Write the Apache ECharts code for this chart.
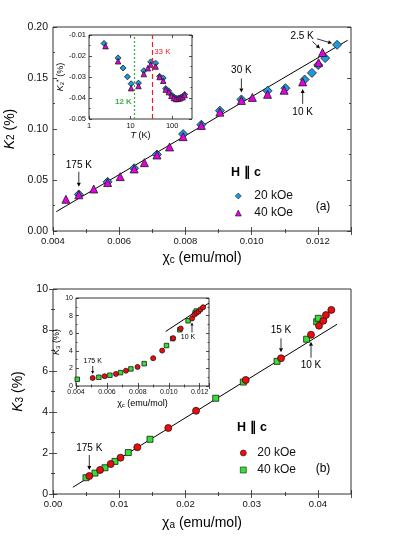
<!DOCTYPE html>
<html>
<head>
<meta charset="utf-8">
<script src="https://cdn.jsdelivr.net/npm/echarts@6/dist/echarts.min.js"></script>
<style>
  html, body { margin: 0; padding: 0; background: #fff; }
  #chart { width: 415px; height: 537px; }
</style>
</head>
<body>
<div id="chart"></div>
<script>
// (a) K2 vs chi_c, main panel  [chi_c (emu/mol), K2 (%)]
const k2Main20 = [
  [0.00478, 0.0358], [0.00565, 0.0482], [0.00645, 0.0615], [0.00714, 0.0750],
  [0.00793, 0.0950], [0.00848, 0.1042], [0.00904, 0.1180], [0.00969, 0.1290],
  [0.01048, 0.1375], [0.01102, 0.1400], [0.01160, 0.1485], [0.01182, 0.1550],
  [0.01201, 0.1627], [0.01222, 0.1695], [0.01258, 0.1825]
];
const k2Main40 = [
  [0.00439, 0.0311], [0.00478, 0.0355], [0.00523, 0.0412], [0.00565, 0.0475],
  [0.00603, 0.0533], [0.00645, 0.0608], [0.00676, 0.0670], [0.00714, 0.0745],
  [0.00752, 0.0824], [0.00793, 0.0925], [0.00848, 0.1035], [0.00904, 0.1165],
  [0.00969, 0.1280], [0.01002, 0.1310], [0.01048, 0.1340], [0.01098, 0.1380],
  [0.01154, 0.1462], [0.01202, 0.1650], [0.01214, 0.1750]
];
const k2Fit = [[0.0041, 0.019], [0.0129, 0.187]];

// (a) inset: K2* vs T  [T (K), K2* (%)]
const k2Star20 = [
  [2.3, -0.0140], [5.0, -0.0209], [6.6, -0.0257], [8.4, -0.0299], [10.3, -0.0332],
  [15.5, -0.0329], [20.8, -0.0270], [30.5, -0.0228], [40, -0.0234], [50, -0.0297],
  [61, -0.0305], [70, -0.0355], [82, -0.0366], [96, -0.0385], [110, -0.0395],
  [124, -0.0401], [140, -0.0401], [158, -0.0398], [178, -0.0392], [200, -0.0383]
];
const k2Star40 = [
  [2.5, -0.0153], [5.0, -0.0225], [10.3, -0.0353], [15.5, -0.0343], [20.8, -0.0286],
  [26, -0.0258], [30.5, -0.0241], [40, -0.0250], [50, -0.0300], [61, -0.0318],
  [70, -0.0360], [83, -0.0372], [96, -0.0390], [110, -0.0400], [124, -0.0405],
  [140, -0.0404], [158, -0.0401], [178, -0.0396], [200, -0.0386]
];
const markTemps = [12, 33];

// (b) K3 vs chi_a, main panel  [chi_a (emu/mol), K3 (%)]
const k3Main20 = [
  [0.00548, 0.878], [0.00710, 1.17], [0.00871, 1.46], [0.01020, 1.77], [0.01273, 2.28],
  [0.01741, 3.22], [0.02160, 4.06], [0.02910, 5.56], [0.03443, 6.62], [0.03896, 7.77],
  [0.04017, 8.21], [0.04082, 8.45], [0.04122, 8.73], [0.04203, 8.98]
];
const k3Main40 = [
  [0.00498, 0.795], [0.00634, 1.02], [0.00785, 1.28], [0.00936, 1.59], [0.01137, 2.02],
  [0.01465, 2.67], [0.02457, 4.67], [0.02874, 5.46], [0.03383, 6.47], [0.03830, 7.55],
  [0.03982, 8.40], [0.04006, 8.57]
];
const k3Fit = [[0.0030, 0.33], [0.0429, 8.28]];

// (b) inset: K3 vs chi_c  [chi_c (emu/mol), K3 (%)]
const k3Inset20 = [
  [0.00508, 0.91], [0.00585, 1.11], [0.00658, 1.37], [0.00723, 1.74], [0.00798, 2.17],
  [0.00899, 3.16], [0.00957, 4.02], [0.01028, 5.44], [0.01077, 6.53], [0.01150, 7.67],
  [0.01165, 8.10], [0.01180, 8.32], [0.01193, 8.47], [0.01205, 8.70], [0.01222, 8.95]
];
const k3Inset40 = [
  [0.00408, 0.76], [0.00548, 0.99], [0.00619, 1.22], [0.00688, 1.52], [0.00755, 1.94],
  [0.00841, 2.54], [0.00985, 4.60], [0.01025, 5.38], [0.01071, 6.39], [0.01125, 7.41],
  [0.01170, 8.30], [0.01178, 8.52]
];
const k3InsetFit = [[0.0098, 6.2], [0.0126, 9.43]];

const legendText = { a20: '20 kOe', a40: '40 kOe', b20: '20 kOe', b40: '40 kOe' };

const font = 'Liberation Sans, Arial, Helvetica, sans-serif';
const blue = '#1e98de', magenta = '#e400e4', red = '#f00a0a', green = '#33e033';
const edge = { borderColor: '#1a1a1a', borderWidth: 0.8 };

const chart = echarts.init(document.getElementById('chart'));

function sub(fs) {
  return {
    i: { fontStyle: 'italic', fontSize: fs, fontFamily: font, color: '#000' },
    c: { fontSize: fs, fontFamily: font, color: '#000' },
    s: { fontSize: Math.round(fs * 0.68), fontFamily: font, color: '#000', verticalAlign: 'bottom', lineHeight: fs * 0.4 },
    p: { fontSize: Math.round(fs * 0.8), fontFamily: font, color: '#000', verticalAlign: 'top', lineHeight: fs * 0.6 }
  };
}

// one grid = bottom/top x axes and left/right y axes
function axes(g, xr, yr, o) {
  const xs = [], ys = [];
  ['bottom', 'top'].forEach((pos, k) => {
    xs.push({
      type: o.xlog ? 'log' : 'value', gridIndex: g, position: pos,
      min: xr[0], max: xr[1], interval: o.xlog ? undefined : xr[2], logBase: 10,
      axisLine: { show: false },
      axisTick: { inside: true, length: o.tick, lineStyle: { color: '#222', width: 0.8 } },
      minorTick: { show: !o.xlog, splitNumber: 2, length: o.tick / 2, lineStyle: { color: '#222', width: 0.8 } },
      splitLine: { show: false }, minorSplitLine: { show: false },
      axisLabel: {
        show: k === 0, fontSize: o.xfs, fontFamily: font, color: '#111', margin: o.xm,
        formatter: o.xfmt, showMaxLabel: o.xmax, showMinLabel: true
      },
      name: k === 0 ? o.xname : '', nameLocation: 'middle', nameGap: o.xgap,
      nameTextStyle: { fontSize: o.nfs, fontFamily: font, color: '#000', rich: sub(o.nfs) }
    });
  });
  ['left', 'right'].forEach((pos, k) => {
    ys.push({
      type: 'value', gridIndex: g, position: pos,
      min: yr[0], max: yr[1], interval: yr[2],
      axisLine: { show: false },
      axisTick: { inside: true, length: o.tick, lineStyle: { color: '#222', width: 0.8 } },
      minorTick: { show: true, splitNumber: 2, length: o.tick / 2, lineStyle: { color: '#222', width: 0.8 } },
      splitLine: { show: false }, minorSplitLine: { show: false },
      axisLabel: {
        show: k === 0, fontSize: o.yfs, fontFamily: font, color: '#111', margin: o.ym,
        formatter: o.yfmt, showMaxLabel: true, showMinLabel: true
      },
      name: k === 0 ? o.yname : '', nameLocation: 'middle', nameGap: o.ygap, nameRotate: 90,
      nameTextStyle: { fontSize: o.nfs, fontFamily: font, color: '#000', rich: sub(o.nfs) }
    });
  });
  return [xs, ys];
}

const A = axes(0, [0.004, 0.013, 0.002], [0, 0.2, 0.05], {
  tick: 4, xfs: 9.5, yfs: 10.5, xm: 5, ym: 5, nfs: 14,
  xfmt: v => v.toFixed(3), yfmt: v => v.toFixed(2), xmax: false,
  xname: '{c|\u03c7}{s|c} (emu/mol)', yname: '{i|K}{s|2} (%)', xgap: 20, ygap: 28
});
const AI = axes(1, [1, 300], [-0.05, -0.01, 0.01], {
  xlog: true, tick: 3, xfs: 7.5, yfs: 7.5, xm: 3, ym: 3, nfs: 9,
  xfmt: v => String(v), yfmt: v => v.toFixed(2), xmax: false,
  xname: '{i|T} (K)', yname: '{i|K}{s|2}{p|*} (%)', xgap: 11, ygap: 23
});
const B = axes(2, [0, 0.045, 0.01], [0, 10, 2], {
  tick: 4, xfs: 9.5, yfs: 10.5, xm: 5, ym: 5, nfs: 14,
  xfmt: v => v.toFixed(2), yfmt: v => String(v), xmax: false,
  xname: '{c|\u03c7}{s|a} (emu/mol)', yname: '{i|K}{s|3} (%)', xgap: 22, ygap: 22
});
const BI = axes(3, [0.004, 0.0126, 0.002], [0, 10, 2], {
  tick: 3, xfs: 7, yfs: 7, xm: 3, ym: 3, nfs: 9,
  xfmt: v => v.toFixed(3), yfmt: v => String(v), xmax: false,
  xname: '{c|\u03c7}{s|c} (emu/mol)', yname: '{i|K}{s|3} (%)', xgap: 13, ygap: 9
});

const frame = { show: true, borderColor: '#333', borderWidth: 1, backgroundColor: '#fff', outerBoundsMode: 'none' };

function dots(name, xi, data, symbol, size, color, z) {
  return {
    type: 'scatter', name, xAxisIndex: xi, yAxisIndex: xi, data, symbol, symbolSize: size,
    itemStyle: Object.assign({ color, opacity: 1 }, edge), z, silent: true
  };
}
function fit(xi, data) {
  return {
    type: 'line', xAxisIndex: xi, yAxisIndex: xi, data, symbol: 'none', silent: true, z: 2,
    lineStyle: { color: '#000', width: 1 }
  };
}

const insetA20 = dots('ai20', 2, k2Star20, 'diamond', 6, blue, 3);
insetA20.markLine = {
  silent: true, symbol: ['none', 'none'], label: { show: false }, animation: false,
  data: [
    { xAxis: markTemps[0], lineStyle: { color: '#3cb043', type: [2, 2], width: 1.3 } },
    { xAxis: markTemps[1], lineStyle: { color: '#e8202a', type: [5, 3], width: 1.2 } }
  ]
};

function legendAt(left, top, names, pad) {
  return {
    left, top, orient: 'vertical', itemWidth: 6, itemHeight: 6, itemGap: 5,
    data: names, formatter: n => legendText[n], selectedMode: false,
    itemStyle: { borderWidth: 0.6 },
    textStyle: { fontSize: 12, fontFamily: font, color: '#111', padding: [0, 0, 0, pad] }
  };
}

chart.setOption({
  animation: false,
  grid: [
    Object.assign({ left: 53, top: 27, width: 298, height: 204 }, frame),
    Object.assign({ left: 89, top: 35, width: 103, height: 84 }, frame),
    Object.assign({ left: 53, top: 289, width: 298, height: 205 }, frame),
    Object.assign({ left: 76, top: 298, width: 133, height: 88 }, frame)
  ],
  xAxis: [].concat(A[0], AI[0], B[0], BI[0]),
  yAxis: [].concat(A[1], AI[1], B[1], BI[1]),
  legend: [legendAt(230, 185, ['a20', 'a40'], 8), legendAt(235, 442, ['b20', 'b40'], 6)],
  series: [
    fit(0, k2Fit),
    dots('a20', 0, k2Main20, 'diamond', 9, blue, 3),
    dots('a40', 0, k2Main40, 'triangle', 8, magenta, 4),
    insetA20,
    dots('ai40', 2, k2Star40, 'triangle', 5.5, magenta, 4),
    fit(4, k3Fit),
    dots('b40', 4, k3Main40, 'rect', 6, green, 3),
    dots('b20', 4, k3Main20, 'circle', 7, red, 4),
    fit(6, k3InsetFit),
    dots('bi40', 6, k3Inset40, 'rect', 4.5, green, 3),
    dots('bi20', 6, k3Inset20, 'circle', 5, red, 4)
  ]
});

// annotations, anchored on data points
function toPx(g, p) { return chart.convertToPixel({ xAxisIndex: 2 * g, yAxisIndex: 2 * g }, p); }

function label(x, y, text, fs, color, align, weight) {
  return {
    type: 'text', x, y, silent: true, z: 10,
    style: {
      text, x: 0, y: 0, fill: color || '#000', fontSize: fs, fontFamily: font, fontWeight: weight || 'normal',
      align: align || 'center', verticalAlign: 'middle', textAlign: align || 'center', textVerticalAlign: 'middle'
    }
  };
}
function arrow(x1, y1, x2, y2, head) {
  const a = Math.atan2(y2 - y1, x2 - x1), h = head || 4, w = h * 0.5;
  const bx = x2 - h * Math.cos(a), by = y2 - h * Math.sin(a);
  return [
    { type: 'line', silent: true, z: 10, shape: { x1, y1, x2: bx, y2: by }, style: { stroke: '#000', lineWidth: 0.8 } },
    {
      type: 'polygon', silent: true, z: 10,
      shape: { points: [[x2, y2], [bx - w * Math.sin(a), by + w * Math.cos(a)], [bx + w * Math.sin(a), by - w * Math.cos(a)]] },
      style: { fill: '#000' }
    }
  ];
}
function note(g, pt, text, tdx, tdy, ax, fs) {
  const p = toPx(g, pt);
  const out = text ? [label(p[0] + tdx, p[1] + tdy, text, fs)] : [];
  if (ax) out.push(...arrow(p[0] + ax[0], p[1] + ax[1], p[0] + ax[2], p[1] + ax[3], fs < 9 ? 3 : 4));
  return out;
}

const els = [].concat(
  note(0, k2Main40[1], '175 K', 0, -30, [0, -23, 0, -8], 10),
  note(0, k2Main40[12], '30 K', 0, -30, [0, -22, 0, -8], 10),
  note(0, k2Main40[16], '10 K', 0, 30, [0, 22, 0, 7], 10),
  note(0, k2Main20[14], '2.5 K', -35, -9, [-20, -6, -5, -1.5], 10),
  note(0, k2Main40[18], '', 0, 0, [-10, -11, -2.5, -4], 10),
  note(2, k3Main20[0], '175 K', 0, -28, [0, -21, 0, -6], 10),
  note(2, k3Main20[8], '15 K', 0, -28, [0, -20, 0, -6], 10),
  note(2, k3Main20[9], '10 K', 0, 31, [0, 23, 0, 7], 10),
  note(3, k3Inset20[0], '175 K', 0, -17, [0, -12, 0, -4], 7),
  note(3, k3Inset20[9], '10 K', -4, 19, [0, 14, 0, 4], 7)
);
const p12 = toPx(1, [markTemps[0], -0.042]);
const p33 = toPx(1, [markTemps[1], -0.018]);
els.push(label(p12[0] - 2, p12[1], '12 K', 8, '#3cb043', 'right', 'bold'));
els.push(label(p33[0] + 2, p33[1], '33 K', 8, '#e8202a', 'left'));
els.push(label(246, 173, 'H \u2225 c', 12.5, '#000', 'center', 'bold'));
els.push(label(323, 207, '(a)', 12, '#000'));
els.push(label(252, 428, 'H \u2225 c', 12.5, '#000', 'center', 'bold'));
els.push(label(323, 469, '(b)', 12, '#000'));

chart.setOption({ graphic: { elements: els } });
</script>
</body>
</html>
